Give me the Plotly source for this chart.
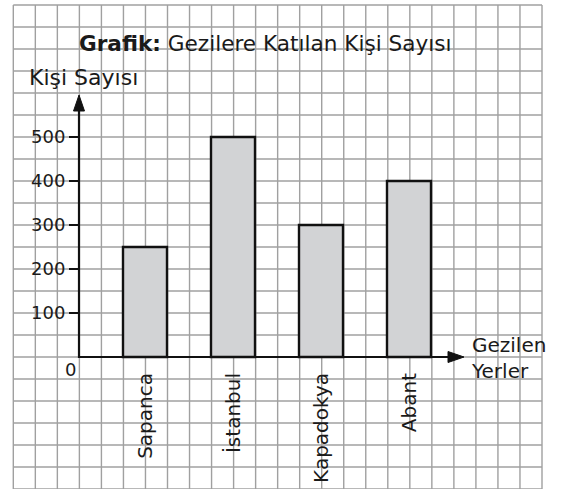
import plotly.graph_objects as go

# ---- data ----
places = ["Sapanca", "İstanbul", "Kapadokya", "Abant"]
people = [250, 500, 300, 400]
y_ticks = [100, 200, 300, 400, 500]
y_tick_text = ["100", "200", "300", "400", "500"]

title_text = "<b>Grafik:</b> Gezilere Katılan Kişi Sayısı"
y_label = "Kişi Sayısı"
x_label = "Gezilen<br>Yerler"

# ---- geometry (pixels) ----
W, H = 562, 489
AX_X = 79.0          # y-axis pixel x
AX_Y = 357.0         # x-axis pixel y (value 0)
CAT0_X = 145.0       # centre of first category
CAT_STEP = 88.0      # pixels per category
PX_PER_UNIT = 0.44   # pixels per person
CELL = 22.03
GRID_X0, GRID_X1 = 13.3, 542.0
GRID_Y0, GRID_Y1 = 5.0, 489.0

FONT = "DejaVu Sans"
TXT = "#1a1a1a"


def px(x):
    return x / W


def py(y):
    return 1 - y / H


x_range = [(0 - CAT0_X) / CAT_STEP, (W - CAT0_X) / CAT_STEP]
y_range = [-(H - AX_Y) / PX_PER_UNIT, AX_Y / PX_PER_UNIT]

fig = go.Figure()
fig.add_trace(go.Bar(
    x=places, y=people, width=0.5,
    marker=dict(color="#d2d3d5", line=dict(color="#111111", width=2.4)),
    hoverinfo="x+y",
))

shapes = []
# graph-paper grid
nx = int(round((GRID_X1 - GRID_X0) / CELL))
for k in range(nx + 1):
    x = GRID_X0 + k * (GRID_X1 - GRID_X0) / nx
    shapes.append(dict(type="line", xref="paper", yref="paper", layer="below",
                       x0=px(x), x1=px(x), y0=py(GRID_Y0), y1=py(GRID_Y1),
                       line=dict(color="#a0a0a0", width=1.4)))
ny = int(round((GRID_Y1 - GRID_Y0) / 22.0))
for k in range(ny + 1):
    y = GRID_Y0 + k * 22.0
    shapes.append(dict(type="line", xref="paper", yref="paper", layer="below",
                       x0=px(GRID_X0), x1=px(GRID_X1), y0=py(y), y1=py(y),
                       line=dict(color="#a0a0a0", width=1.4)))

# axes with arrows
X_TIP = 464.0
Y_TIP = 95.0
HEAD_L, HEAD_W = 16.0, 5.5
shapes.append(dict(type="line", xref="paper", yref="paper", layer="above",
                   x0=px(AX_X), x1=px(X_TIP - HEAD_L + 2), y0=py(AX_Y), y1=py(AX_Y),
                   line=dict(color="#111111", width=2.2)))
shapes.append(dict(type="line", xref="paper", yref="paper", layer="above",
                   x0=px(AX_X), x1=px(AX_X), y0=py(AX_Y + 1), y1=py(Y_TIP + HEAD_L - 2),
                   line=dict(color="#111111", width=2.2)))
shapes.append(dict(type="path", xref="paper", yref="paper", layer="above",
                   path=f"M {px(X_TIP)} {py(AX_Y)} L {px(X_TIP - HEAD_L)} {py(AX_Y - HEAD_W)} "
                        f"L {px(X_TIP - HEAD_L)} {py(AX_Y + HEAD_W)} Z",
                   fillcolor="#111111", line=dict(color="#111111", width=1)))
shapes.append(dict(type="path", xref="paper", yref="paper", layer="above",
                   path=f"M {px(AX_X)} {py(Y_TIP)} L {px(AX_X - HEAD_W)} {py(Y_TIP + HEAD_L)} "
                        f"L {px(AX_X + HEAD_W)} {py(Y_TIP + HEAD_L)} Z",
                   fillcolor="#111111", line=dict(color="#111111", width=1)))

annotations = [
    dict(text=title_text, x=px(265), y=py(44), xref="paper", yref="paper",
         xanchor="center", yanchor="middle", showarrow=False,
         font=dict(family=FONT, size=21.6, color=TXT)),
    dict(text=y_label, x=px(27), y=py(77), xref="paper", yref="paper",
         xanchor="left", yanchor="middle", showarrow=False,
         font=dict(family=FONT, size=22, color=TXT)),
    dict(text="0", x=px(70), y=py(369), xref="paper", yref="paper",
         xanchor="center", yanchor="middle", showarrow=False,
         font=dict(family=FONT, size=18, color=TXT)),
    dict(text=x_label, x=px(469), y=py(358), xref="paper", yref="paper",
         xanchor="left", yanchor="middle", align="left", showarrow=False,
         font=dict(family=FONT, size=20, color=TXT)),
]

fig.update_layout(
    width=W, height=H,
    margin=dict(l=0, r=0, t=0, b=0),
    paper_bgcolor="white", plot_bgcolor="white",
    showlegend=False,
    shapes=shapes, annotations=annotations,
    xaxis=dict(type="category", categoryorder="array", categoryarray=places,
               range=x_range, anchor="free", position=py(AX_Y),
               showgrid=False, zeroline=False, showline=False, ticks="",
               tickangle=-90, ticklabelstandoff=11, automargin=False,
               tickfont=dict(family=FONT, size=20, color=TXT), fixedrange=True),
    yaxis=dict(range=y_range, anchor="free", position=px(AX_X),
               showgrid=False, zeroline=False, showline=False,
               tickmode="array", tickvals=y_ticks, ticktext=y_tick_text,
               ticks="outside", ticklen=10, tickwidth=2, tickcolor="#111111",
               automargin=False,
               tickfont=dict(family=FONT, size=18, color=TXT), fixedrange=True),
)

fig.write_html(
    "out.html",
    config={"displayModeBar": False},
    post_script="document.body.style.margin='0';document.body.style.overflow='hidden';",
)
